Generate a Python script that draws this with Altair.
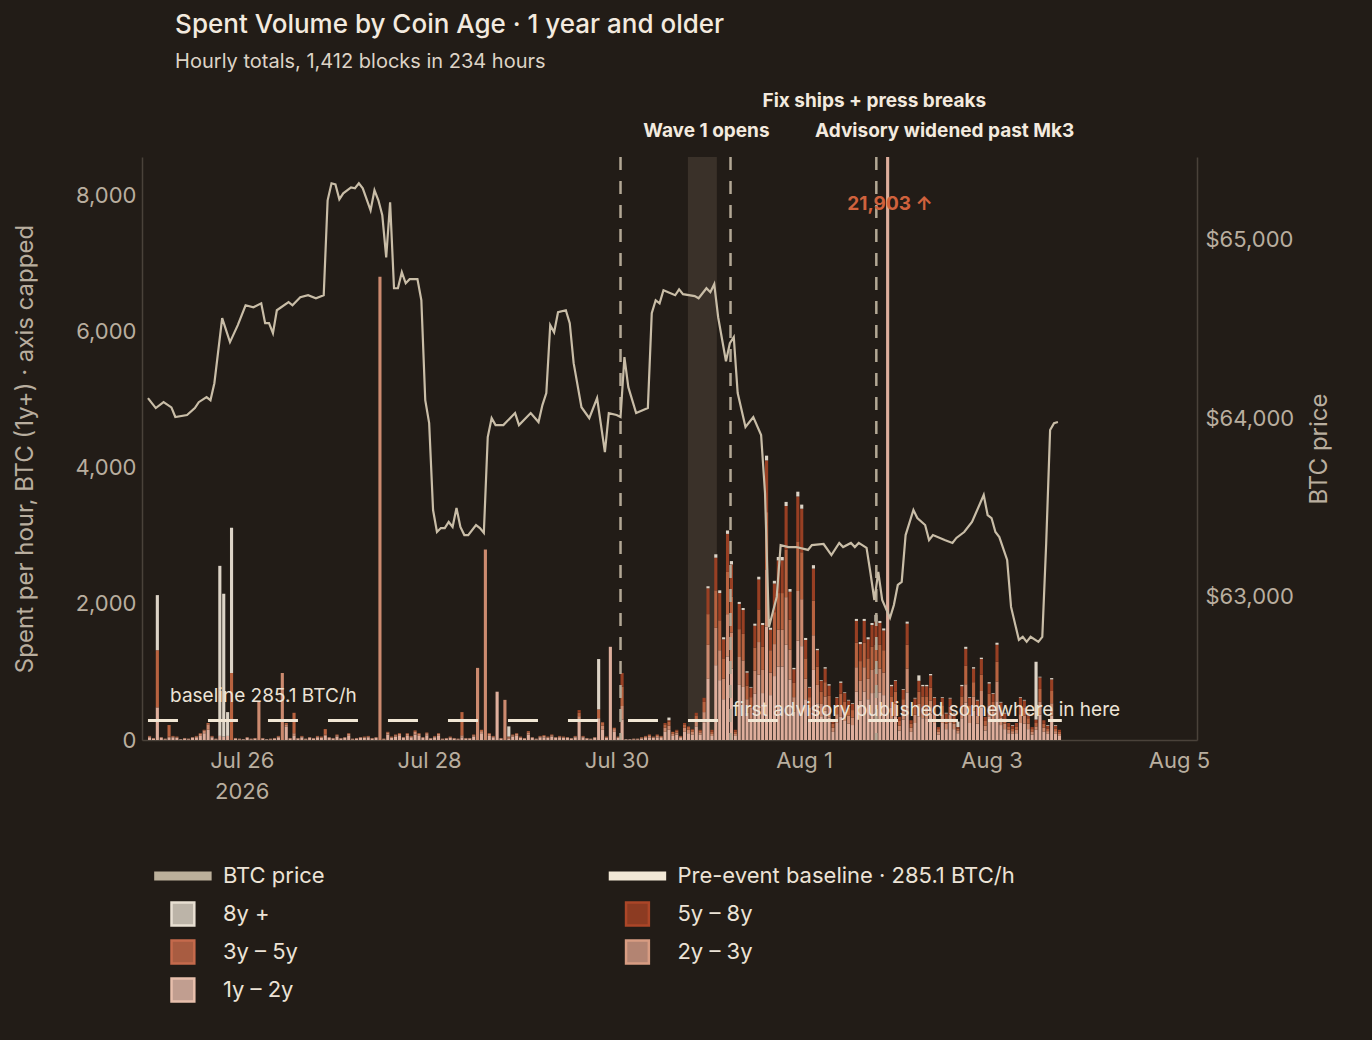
import altair as alt
import pandas as pd

BANDS = ["1y – 2y", "2y – 3y", "3y – 5y", "5y – 8y", "8y +"]
BAND_COLORS = ["#deae9c", "#cc8a6f", "#b8623f", "#983f23", "#dcd3c6"]

# hourly spent volume per age band, from Jul 25 00:00 (234 hours)
one_two = [
    40, 20, 480, 30, 10, 30, 40, 30, 10, 20, 10, 30, 40, 60, 100, 150, 40, 10, 60, 50, 60, 0, 20, 10,
    10, 30, 10, 20, 0, 20, 10, 10, 20, 40, 0, 200, 20, 60, 20, 40, 10, 30, 20, 40, 30, 60, 30, 20,
    50, 20, 30, 60, 10, 20, 30, 30, 40, 20, 30, 0, 10, 80, 30, 50, 60, 30, 60, 40, 80, 60, 30, 70,
    20, 40, 60, 10, 20, 30, 20, 10, 40, 20, 20, 50, 0, 100, 0, 60, 40, 710, 20, 0, 20, 50, 60, 30,
    20, 80, 30, 10, 40, 40, 30, 50, 30, 40, 30, 30, 20, 40, 300, 40, 20, 10, 30, 320, 150, 30, 1370, 120,
    30, 300, 10, 10, 10, 10, 20, 30, 40, 30, 40, 30, 120, 150, 60, 80, 30, 120, 100, 80, 200, 80, 260, 900,
    60, 1100, 880, 600, 1230, 1050, 60, 810, 780, 400, 310, 680, 960, 690, 1670, 660, 940, 1080, 1080, 1400, 890, 420, 1460, 1380,
    600, 310, 1030, 540, 350, 430, 330, 120, 250, 340, 280, 240, 220, 710, 580, 710, 600, 690, 700, 700, 660, 21903, 320, 350,
    140, 300, 700, 120, 250, 350, 320, 320, 390, 250, 80, 250, 160, 250, 160, 100, 320, 550, 250, 430, 240, 480, 140, 340,
    280, 570, 220, 160, 100, 90, 100, 250, 240, 160, 80, 150, 370, 120, 90, 360, 90, 60,
]
two_three = [
    10, 10, 0, 10, 10, 20, 10, 10, 0, 10, 10, 10, 10, 30, 40, 80, 10, 10, 0, 0, 0, 0, 10, 10,
    0, 10, 10, 10, 560, 10, 0, 10, 10, 10, 985, 30, 10, 40, 10, 10, 10, 10, 10, 10, 10, 20, 10, 10,
    20, 10, 10, 30, 10, 10, 10, 10, 10, 10, 10, 6810, 10, 30, 10, 20, 30, 10, 30, 10, 40, 30, 10, 30,
    10, 10, 30, 10, 10, 10, 10, 10, 30, 10, 10, 20, 1060, 30, 2800, 30, 10, 0, 10, 590, 20, 20, 30, 10,
    10, 30, 10, 10, 10, 20, 10, 20, 10, 10, 10, 10, 10, 10, 50, 10, 10, 10, 10, 0, 60, 10, 0, 40,
    10, 200, 0, 0, 10, 10, 10, 20, 20, 10, 20, 20, 60, 60, 30, 30, 20, 60, 50, 40, 80, 30, 150, 500,
    30, 550, 440, 300, 620, 530, 30, 410, 390, 200, 160, 340, 480, 340, 840, 330, 470, 540, 540, 700, 440, 210, 730, 690,
    300, 160, 510, 270, 180, 210, 160, 60, 130, 170, 140, 120, 110, 360, 290, 360, 300, 340, 350, 350, 330, 0, 160, 180,
    70, 150, 350, 60, 120, 180, 160, 160, 190, 130, 40, 130, 80, 120, 80, 40, 160, 270, 130, 210, 120, 240, 70, 170,
    140, 290, 110, 80, 50, 40, 50, 130, 120, 80, 40, 50, 190, 60, 40, 180, 40, 30,
]
three_five = [
    10, 0, 840, 0, 0, 170, 10, 10, 0, 0, 0, 0, 10, 10, 10, 20, 10, 0, 0, 0, 0, 985, 0, 0,
    0, 0, 0, 0, 0, 0, 0, 0, 0, 10, 0, 20, 0, 300, 0, 10, 0, 0, 0, 10, 10, 80, 0, 0,
    10, 0, 0, 10, 0, 0, 0, 10, 10, 0, 0, 0, 0, 10, 10, 10, 10, 0, 10, 10, 20, 10, 0, 10,
    0, 10, 10, 0, 0, 10, 0, 0, 340, 0, 0, 10, 0, 20, 0, 10, 10, 0, 0, 0, 10, 10, 10, 10,
    0, 20, 0, 0, 10, 10, 10, 10, 0, 10, 10, 0, 0, 10, 50, 10, 0, 0, 0, 130, 50, 10, 0, 20,
    10, 285, 0, 0, 0, 0, 10, 10, 20, 10, 20, 10, 50, 60, 30, 30, 10, 50, 40, 30, 80, 30, 150, 450,
    30, 550, 440, 300, 620, 530, 30, 410, 390, 200, 160, 340, 480, 340, 840, 330, 470, 540, 540, 700, 440, 210, 730, 690,
    300, 160, 510, 270, 180, 210, 160, 60, 130, 170, 140, 120, 110, 360, 290, 360, 300, 340, 350, 350, 330, 0, 160, 180,
    70, 150, 350, 60, 120, 180, 160, 160, 190, 130, 40, 130, 80, 120, 80, 30, 160, 270, 130, 210, 120, 240, 70, 170,
    140, 290, 110, 80, 50, 40, 50, 130, 120, 80, 40, 50, 190, 60, 40, 180, 40, 30,
]
five_eight = [
    0, 0, 0, 0, 0, 0, 0, 0, 0, 0, 0, 0, 0, 0, 0, 0, 0, 0, 0, 0, 0, 0, 0, 0,
    0, 0, 0, 0, 0, 0, 0, 0, 0, 0, 0, 0, 0, 0, 0, 0, 0, 0, 0, 0, 0, 0, 0, 0,
    0, 0, 0, 0, 0, 0, 0, 0, 0, 0, 0, 0, 0, 0, 0, 0, 0, 0, 0, 0, 0, 0, 0, 0,
    0, 0, 0, 0, 0, 0, 0, 0, 0, 0, 0, 0, 0, 0, 0, 0, 0, 0, 0, 0, 0, 0, 0, 0,
    0, 0, 0, 0, 0, 0, 0, 0, 0, 0, 0, 0, 0, 0, 40, 0, 0, 0, 0, 0, 0, 0, 0, 0,
    0, 200, 0, 0, 0, 0, 0, 0, 0, 0, 0, 0, 20, 20, 0, 10, 0, 20, 10, 10, 40, 10, 60, 380,
    30, 480, 400, 280, 560, 470, 30, 370, 350, 190, 140, 320, 440, 320, 760, 300, 420, 480, 480, 640, 410, 200, 660, 640,
    270, 140, 470, 240, 160, 200, 150, 60, 110, 160, 130, 100, 90, 320, 250, 320, 280, 320, 340, 320, 290, 0, 150, 160,
    60, 140, 310, 50, 120, 160, 150, 150, 180, 110, 30, 110, 70, 120, 70, 20, 150, 250, 110, 200, 100, 230, 60, 150,
    120, 250, 110, 70, 50, 40, 50, 110, 100, 70, 30, 50, 170, 50, 40, 170, 40, 30,
]
eight_plus = [
    0, 0, 810, 0, 0, 0, 0, 0, 0, 0, 0, 0, 0, 0, 0, 0, 0, 0, 2500, 2100, 350, 2135, 0, 0,
    0, 0, 0, 0, 0, 0, 0, 0, 0, 0, 0, 0, 0, 0, 0, 0, 0, 0, 0, 0, 0, 0, 0, 0,
    0, 0, 0, 0, 0, 0, 0, 0, 0, 0, 0, 0, 0, 0, 0, 0, 0, 0, 0, 0, 0, 0, 0, 0,
    0, 0, 0, 0, 0, 0, 0, 0, 0, 0, 0, 0, 0, 0, 0, 0, 0, 0, 0, 0, 150, 0, 0, 0,
    0, 0, 0, 0, 0, 0, 0, 0, 0, 0, 0, 0, 0, 0, 0, 0, 0, 0, 0, 740, 0, 0, 0, 0,
    0, 0, 0, 0, 0, 0, 0, 0, 0, 0, 0, 0, 0, 40, 0, 0, 0, 0, 0, 0, 0, 0, 0, 30,
    0, 50, 40, 30, 50, 50, 0, 30, 30, 20, 10, 30, 40, 30, 70, 30, 40, 50, 50, 60, 40, 20, 70, 60,
    30, 10, 50, 20, 10, 20, 20, 0, 10, 20, 10, 10, 10, 30, 30, 30, 30, 30, 100, 30, 30, 0, 20, 10,
    0, 10, 30, 0, 10, 80, 20, 20, 20, 10, 0, 10, 10, 10, 10, 80, 20, 30, 10, 20, 10, 20, 0, 20,
    10, 30, 10, 10, 0, 10, 0, 10, 10, 10, 0, 850, 10, 0, 10, 20, 10, 0,
]

# BTC price (hour offset from Jul 25 00:00, USD)
price_hour = [0, 2, 4, 6, 7, 10, 12, 13, 15, 16, 17, 19, 21, 23, 25, 27, 29, 30, 31, 32, 33, 36, 37, 39, 41,
              43, 45, 46, 47, 48, 49, 50, 52, 53, 54, 55, 57, 58, 59, 60, 61, 62, 63, 64, 65, 66, 67, 69, 70,
              71, 72, 73, 74, 75, 76, 77, 78, 79, 80, 81, 82, 84, 85, 86, 87, 88, 89, 91, 94, 95, 98, 100,
              101, 102, 103, 104, 105, 107, 108, 109, 111, 113, 115, 117, 118, 120, 121, 122, 123, 125, 128,
              129, 130, 131, 132, 135, 136, 137, 140, 141, 143, 144, 145, 146, 148, 149, 150, 151, 153, 155,
              157, 158, 159, 161, 162, 164, 166, 169, 170, 173, 175, 177, 178, 180, 181, 182, 184, 185, 186,
              187, 188, 190, 191, 192, 193, 194, 196, 197, 199, 200, 201, 204, 206, 207, 209, 211, 212, 214,
              215, 216, 217, 218, 220, 221, 223, 224, 225, 226, 228, 229, 230, 231, 232, 233]
price_usd = [64112, 64056, 64089, 64060, 64006, 64017, 64056, 64089, 64117, 64100, 64195, 64559, 64425,
             64520, 64631, 64620, 64642, 64531, 64531, 64475, 64603, 64648, 64631, 64676, 64687, 64670,
             64687, 65218, 65313, 65307, 65223, 65257, 65290, 65285, 65313, 65285, 65162, 65274, 65218,
             65134, 64899, 65207, 64726, 64726, 64816, 64754, 64777, 64777, 64659, 64100, 63972, 63486,
             63363, 63385, 63385, 63419, 63391, 63497, 63391, 63346, 63346, 63402, 63385, 63358, 63894,
             64000, 63961, 63961, 64028, 63961, 64028, 63978, 64073, 64140, 64520, 64480, 64592, 64603,
             64531, 64307, 64061, 64000, 64112, 63810, 64028, 64017, 64006, 64341, 64173, 64028, 64056,
             64587, 64659, 64642, 64715, 64687, 64720, 64693, 64682, 64670, 64726, 64704, 64749, 64564,
             64318, 64419, 64453, 64140, 63950, 64006, 63905, 63581, 62830, 63000, 63290, 63279, 63279,
             63263, 63290, 63296, 63234, 63302, 63279, 63302, 63279, 63302, 63274, 63134, 62983, 63140,
             62983, 62883, 62955, 63067, 63084, 63346, 63486, 63441, 63402, 63318, 63346, 63318, 63302,
             63330, 63363, 63419, 63469, 63570, 63458, 63441, 63363, 63335, 63207, 62944, 62760, 62777,
             62749, 62777, 62749, 62777, 63302, 63933, 63972, 63978]

BASELINE = 285.1
SPIKE = 21903

BG = "#221c17"
AXIS_TXT = "#b9ae9f"
FONT = "Inter"

start = pd.Timestamp("2026-07-25 00:00")


def iso(ts):
    return ts.strftime("%Y-%m-%dT%H:%M:%SZ")


rows = []
for band_i, (band, vals) in enumerate(zip(BANDS, [one_two, two_three, three_five, five_eight, eight_plus])):
    for h, v in enumerate(vals):
        t = start + pd.Timedelta(hours=h)
        rows.append({"t": iso(t), "t2": iso(t + pd.Timedelta(minutes=48)),
                     "band": band, "order": band_i, "btc": v})
bars_df = pd.DataFrame(rows)

price_df = pd.DataFrame({
    "t": [iso(start + pd.Timedelta(hours=h)) for h in price_hour],
    "price": price_usd,
})

n_hours = len(one_two)
x_scale = alt.Scale(type="utc", domain=[
    alt.DateTime(year=2026, month=7, date=24, hours=23, minutes=45, utc=True),
    alt.DateTime(year=2026, month=8, date=5, hours=3, minutes=20, utc=True),
])
y_scale = alt.Scale(domain=[0, 8570], nice=False)
tick_days = [alt.DateTime(year=2026, month=m, date=d, utc=True)
             for m, d in [(7, 26), (7, 28), (7, 30), (8, 1), (8, 3), (8, 5)]]

x_axis = alt.Axis(values=tick_days, title=None, grid=False, ticks=False,
                  domainColor="#4a423a", domainWidth=1.5, labelColor=AXIS_TXT,
                  labelFontSize=22, labelPadding=10, labelLineHeight=31,
                  labelExpr="datum.index == 0 ? [utcFormat(datum.value, '%b %-d'), '2026'] : utcFormat(datum.value, '%b %-d')")
y_axis = alt.Axis(values=[0, 2000, 4000, 6000, 8000], format=",.0f", grid=False, ticks=False,
                  domainColor="#4a423a", domainWidth=1.5, labelColor=AXIS_TXT,
                  labelFontSize=22, labelPadding=6,
                  title="Spent per hour, BTC (1y+) · axis capped", titleColor=AXIS_TXT,
                  titleFontSize=24, titleFontWeight="normal", titlePadding=38)


def left_y(field):
    return alt.Y(field, scale=y_scale, axis=y_axis, title="Spent per hour, BTC (1y+) · axis capped")


band_df = pd.DataFrame({"t": ["2026-07-30T18:15:00Z"], "t2": ["2026-07-31T01:40:00Z"]})
shade = alt.Chart(band_df).mark_rect(color="#3a3129").encode(
    x=alt.X("t:T", scale=x_scale, axis=x_axis), x2="t2:T")

bars = alt.Chart(bars_df).mark_bar(clip=True).encode(
    x=alt.X("t:T", scale=x_scale, axis=x_axis),
    x2="t2:T",
    y=alt.Y("sum(btc):Q", scale=y_scale, stack="zero", axis=y_axis,
            title="Spent per hour, BTC (1y+) · axis capped"),
    color=alt.Color("band:N", scale=alt.Scale(domain=BANDS, range=BAND_COLORS), legend=None),
    order=alt.Order("order:Q", sort="ascending"),
)

events_df = pd.DataFrame({"t": ["2026-07-30T01:00:00Z", "2026-07-31T05:10:00Z", "2026-08-01T18:30:00Z"]})
event_rules = alt.Chart(events_df).mark_rule(color="#b3a895", strokeWidth=2.5, strokeDash=[13, 11]).encode(
    x=alt.X("t:T", scale=x_scale, axis=x_axis))

base_df = pd.DataFrame({"t": [iso(start)], "t2": [iso(start + pd.Timedelta(hours=n_hours))], "y": [BASELINE]})
baseline = alt.Chart(base_df).mark_rule(color="#f1e6d4", strokeWidth=3, strokeDash=[30, 30]).encode(
    x=alt.X("t:T", scale=x_scale, axis=x_axis), x2="t2:T", y=left_y("y:Q"))

ev_txt_df = pd.DataFrame({
    "t": ["2026-07-30T23:00:00Z", "2026-08-01T18:00:00Z", "2026-08-02T12:00:00Z"],
    "y": [8956, 9397, 8956],
    "label": ["Wave 1 opens", "Fix ships + press breaks", "Advisory widened past Mk3"],
})
ev_text = alt.Chart(ev_txt_df).mark_text(fontSize=19, fontWeight="bold", color="#f3eadf", font=FONT).encode(
    x=alt.X("t:T", scale=x_scale, axis=x_axis), y=left_y("y:Q"), text="label:N")

spike_df = pd.DataFrame({"t": ["2026-08-01T22:00:00Z"], "y": [7882], "label": [f"{SPIKE:,} ↑"]})
spike_text = alt.Chart(spike_df).mark_text(fontSize=19, fontWeight="bold", color="#d0623d", font=FONT).encode(
    x=alt.X("t:T", scale=x_scale, axis=x_axis), y=left_y("y:Q"), text="label:N")

note_df = pd.DataFrame({
    "t": ["2026-07-25T05:40:00Z", "2026-07-31T05:45:00Z"],
    "y": [647, 441],
    "label": [f"baseline {BASELINE} BTC/h", "first advisory published somewhere in here"],
})
notes = alt.Chart(note_df).mark_text(fontSize=19, align="left", color="#ece3d6", font=FONT).encode(
    x=alt.X("t:T", scale=x_scale, axis=x_axis), y=left_y("y:Q"), text="label:N")

left = alt.layer(shade, bars, event_rules, baseline, ev_text, spike_text, notes)

price = alt.Chart(price_df).mark_line(color="#c9bda7", strokeWidth=2.2).encode(
    x=alt.X("t:T", scale=x_scale, axis=x_axis),
    y=alt.Y("price:Q", scale=alt.Scale(domain=[62200, 65460], nice=False, zero=False),
            axis=alt.Axis(orient="right", values=[63000, 64000, 65000], format="$,.0f", grid=False,
                          ticks=False, domainColor="#4a423a", domainWidth=1.5, labelColor=AXIS_TXT,
                          labelFontSize=22, labelPadding=8, title="BTC price", titleColor=AXIS_TXT,
                          titleFontSize=24, titleFontWeight="normal", titleAngle=270, titlePadding=38)),
)

main = alt.layer(left, price).resolve_scale(y="independent").properties(width=1055, height=583)

# legend
leg_df = pd.DataFrame({
    "label": ["BTC price", f"Pre-event baseline · {BASELINE} BTC/h", "8y +", "5y – 8y", "3y – 5y", "2y – 3y", "1y – 2y"],
    "col": [0, 1, 0, 1, 0, 1, 0],
    "row": [0, 0, 1, 1, 2, 2, 3],
    "kind": ["line", "line", "box", "box", "box", "box", "box"],
    "color": ["#bcb09b", "#f2e8d6", "#bcb4a8", "#8c3b22", "#a85c41", "#b38472", "#c19e90"],
    "edge": ["#bcb09b", "#f2e8d6", "#e8dfd2", "#ab4628", "#c56a4c", "#d89c82", "#e8bfac"],
})
lx = alt.X("col:Q", scale=alt.Scale(domain=[-0.09, 2.11]), axis=None)
ly = alt.Y("row:Q", scale=alt.Scale(domain=[-0.5, 3.5], reverse=True), axis=None)
leg_base = alt.Chart(leg_df)
leg_lines = leg_base.transform_filter("datum.kind == 'line'").mark_point(
    shape="M-1,-0.16H1V0.16H-1Z", size=3300, filled=True, opacity=1).encode(
    x=lx, y=ly, fill=alt.Fill("color:N", scale=None), stroke=alt.value(None))
leg_boxes = leg_base.transform_filter("datum.kind == 'box'").mark_square(
    size=520, opacity=1, strokeWidth=2.5).encode(
    x=lx, y=ly, fill=alt.Fill("color:N", scale=None), stroke=alt.Stroke("edge:N", scale=None))
leg_text = leg_base.mark_text(align="left", dx=40, fontSize=22, color="#ece3d6", font=FONT).encode(
    x=lx, y=ly, text="label:N")
legend = alt.layer(leg_lines, leg_boxes, leg_text).properties(width=1000, height=152)

chart = alt.vconcat(main, legend, spacing=55).properties(
    title=alt.Title("Spent Volume by Coin Age · 1 year and older",
                    subtitle="Hourly totals, 1,412 blocks in 234 hours",
                    anchor="start", dx=162, fontSize=26, fontWeight=500, color="#f3eadf",
                    subtitleFontSize=20, subtitleColor="#ddd3c6", subtitlePadding=14, offset=20,
                    font=FONT, subtitleFont=FONT),
    padding={"top": 3, "left": 5, "right": 5, "bottom": 5},
).configure(background=BG, font=FONT).configure_view(stroke=None)

chart.save("out.html", embed_options={"renderer": "svg", "actions": False})

# dark page behind the chart
with open("out.html", encoding="utf-8") as f:
    html = f.read()
html = html.replace("<head>", f"<head>\n<style>body {{ background: {BG}; }}</style>", 1)
with open("out.html", "w", encoding="utf-8") as f:
    f.write(html)
